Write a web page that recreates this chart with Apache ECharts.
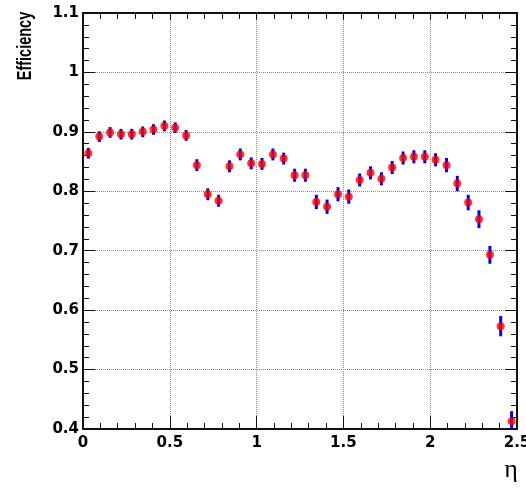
<!DOCTYPE html>
<html>
<head>
<meta charset="utf-8">
<script src="https://cdn.jsdelivr.net/npm/echarts@6/dist/echarts.min.js"></script>
<style>
html,body{margin:0;padding:0;background:#fff;}
#chart{width:526px;height:491px;}
</style>
</head>
<body>
<div id="chart"></div>
<script>
const etaCenters = [0.031,0.094,0.156,0.219,0.281,0.344,0.406,0.469,0.531,0.594,0.656,0.719,0.781,0.844,0.906,0.969,1.031,1.094,1.156,1.219,1.281,1.344,1.406,1.469,1.531,1.594,1.656,1.719,1.781,1.844,1.906,1.969,2.031,2.094,2.156,2.219,2.281,2.344,2.406,2.469];
const efficiency = [0.864,0.892,0.899,0.896,0.896,0.900,0.904,0.910,0.907,0.894,0.844,0.795,0.784,0.842,0.862,0.847,0.846,0.862,0.855,0.827,0.827,0.782,0.774,0.795,0.791,0.819,0.831,0.821,0.840,0.856,0.858,0.858,0.853,0.844,0.813,0.781,0.753,0.693,0.573,0.413];
const errors = [0.009,0.009,0.009,0.009,0.009,0.009,0.009,0.009,0.009,0.009,0.010,0.010,0.010,0.010,0.010,0.010,0.010,0.010,0.010,0.011,0.011,0.012,0.012,0.012,0.012,0.011,0.011,0.011,0.011,0.011,0.011,0.011,0.011,0.012,0.013,0.013,0.015,0.015,0.017,0.017];
const xTickLabels = ['0','0.5','1','1.5','2','2.5'];
const yTickLabels = ['0.4','0.5','0.6','0.7','0.8','0.9','1','1.1'];
const xTitle = 'η';
const yTitle = 'Efficiency';

const points = etaCenters.map((x, i) => [x, efficiency[i]]);
const bars = etaCenters.map((x, i) => [x, efficiency[i] - errors[i], efficiency[i] + errors[i]]);

const labelFont = {fontFamily: 'DejaVu Sans', fontWeight: 'bold', fontSize: 15, color: '#000'};
const frameLine = {show: true, onZero: false, lineStyle: {color: '#111', width: 2}};

const chart = echarts.init(document.getElementById('chart'), null, {renderer: 'canvas'});
chart.setOption({
  animation: false,
  backgroundColor: '#fff',
  grid: {left: 83, right: 9, top: 13, bottom: 62, containLabel: false, outerBoundsMode: 'none'},
  xAxis: [
    {
      type: 'value', min: 0, max: 2.5, interval: 0.5, position: 'bottom',
      axisLine: frameLine,
      axisTick: {show: true, inside: true, length: 13, lineStyle: {color: '#111', width: 1}},
      minorTick: {show: true, splitNumber: 5, length: 6, lineStyle: {color: '#111', width: 1}},
      splitLine: {show: true, lineStyle: {type: 'dotted', color: '#888', width: 1}},
      axisLabel: Object.assign({margin: 7, formatter: (v) => xTickLabels[Math.round(v / 0.5)]}, labelFont)
    },
    {
      type: 'value', min: 0, max: 2.5, interval: 0.5, position: 'top',
      axisLine: frameLine,
      axisTick: {show: true, inside: true, length: 7, lineStyle: {color: '#111', width: 1}},
      minorTick: {show: true, splitNumber: 5, length: 6, lineStyle: {color: '#111', width: 1}},
      splitLine: {show: false},
      axisLabel: {show: false}
    }
  ],
  yAxis: [
    {
      type: 'value', min: 0.4, max: 1.1, interval: 0.1, position: 'left',
      axisLine: frameLine,
      axisTick: {show: true, inside: true, length: 12, lineStyle: {color: '#111', width: 1}},
      minorTick: {show: true, splitNumber: 5, length: 6, lineStyle: {color: '#111', width: 1}},
      splitLine: {show: true, lineStyle: {type: 'dotted', color: '#888', width: 1}},
      axisLabel: Object.assign({margin: 4, padding: [4, 0, 0, 0], formatter: (v) => yTickLabels[Math.round((v - 0.4) / 0.1)]}, labelFont)
    },
    {
      type: 'value', min: 0.4, max: 1.1, interval: 0.1, position: 'right',
      axisLine: frameLine,
      axisTick: {show: true, inside: true, length: 12, lineStyle: {color: '#111', width: 1}},
      minorTick: {show: true, splitNumber: 5, length: 6, lineStyle: {color: '#111', width: 1}},
      splitLine: {show: false},
      axisLabel: {show: false}
    }
  ],
  graphic: [
    {
      type: 'text', x: 25, y: 46, rotation: Math.PI / 2, scaleX: 0.69, scaleY: 1,
      style: {text: yTitle, align: 'center', verticalAlign: 'middle', font: 'bold 21px "Liberation Sans"', fill: '#000'}
    },
    {
      type: 'text', x: 511, y: 470,
      style: {text: xTitle, align: 'center', verticalAlign: 'middle', font: '26px "Liberation Serif"', fill: '#000'}
    }
  ],
  series: [
    {
      type: 'custom',
      xAxisIndex: 0, yAxisIndex: 0,
      clip: true,
      data: bars,
      renderItem: function (params, api) {
        const lo = api.coord([api.value(0), api.value(1)]);
        const hi = api.coord([api.value(0), api.value(2)]);
        return {
          type: 'line',
          shape: {x1: lo[0], y1: lo[1], x2: hi[0], y2: hi[1]},
          style: {stroke: '#0000ee', lineWidth: 3}
        };
      },
      z: 2
    },
    {
      type: 'scatter',
      xAxisIndex: 0, yAxisIndex: 0,
      data: points,
      symbol: 'circle',
      symbolSize: 8,
      itemStyle: {color: '#ff0000'},
      z: 3
    }
  ]
});
</script>
</body>
</html>
